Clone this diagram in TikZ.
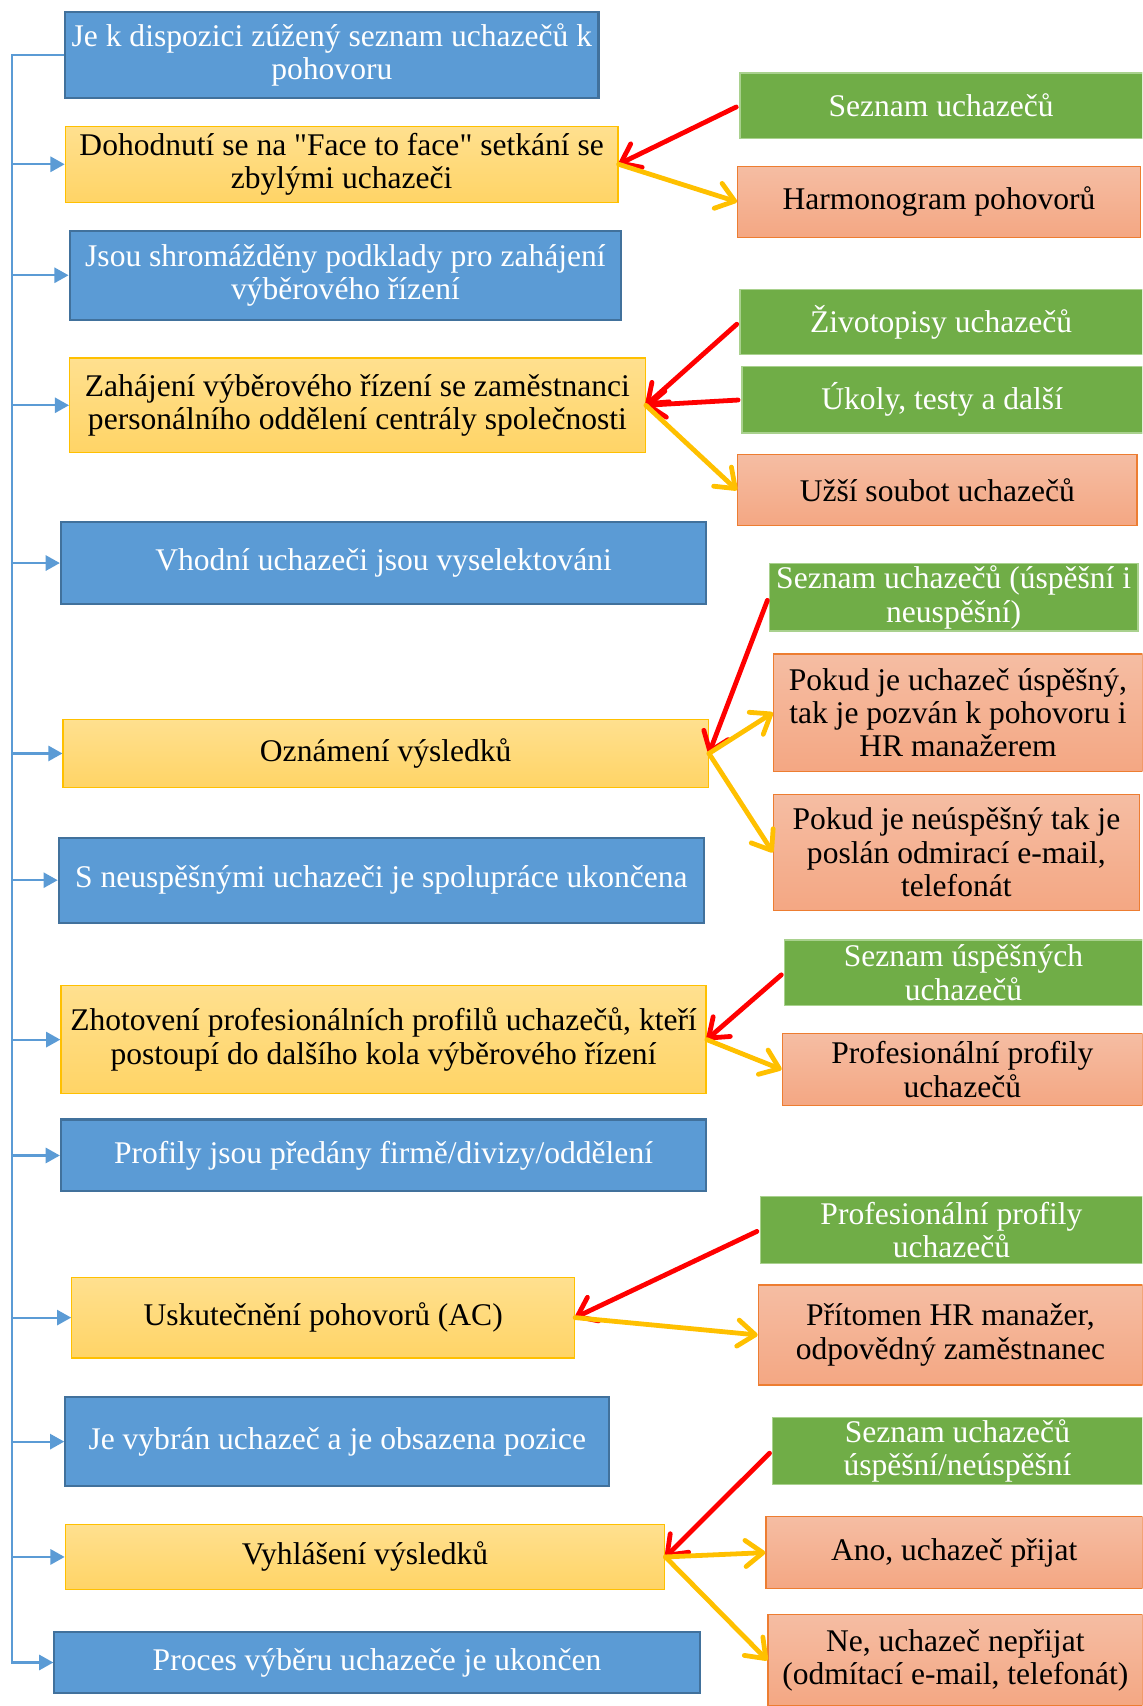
\documentclass[tikz,border=0pt]{standalone}
\usepackage{fontspec}
\setmainfont{Liberation Serif}
\usetikzlibrary{arrows.meta}
\definecolor{procblue}{HTML}{5B9BD5}
\definecolor{procblueline}{HTML}{41719C}
\definecolor{procyellowtop}{HTML}{FFE08F}
\definecolor{procyellowbot}{HTML}{FFD466}
\definecolor{procyellowline}{HTML}{FFC000}
\definecolor{ingreen}{HTML}{70AD47}
\definecolor{ingreenline}{HTML}{A9D18E}
\definecolor{outsalmontop}{HTML}{F5BDA3}
\definecolor{outsalmonbot}{HTML}{F4A783}
\definecolor{outsalmonline}{HTML}{ED7D31}
\definecolor{arrred}{HTML}{FF0000}
\definecolor{arryellow}{HTML}{FFC000}

\begin{document}
\begin{tikzpicture}[
    x=0.5pt, y=-0.5pt,
    every node/.style={font=\fontsize{14.5}{15.3}\selectfont, align=center, inner xsep=1pt, inner ysep=1pt},
    blueproc/.style={rectangle, draw=procblueline, line width=1pt, fill=procblue, text=white},
    yellowproc/.style={rectangle, draw=procyellowline, line width=0.6pt, top color=procyellowtop, bottom color=procyellowbot, text=black},
    greenin/.style={rectangle, draw=ingreenline, line width=0.6pt, fill=ingreen, text=white},
    salmonout/.style={rectangle, draw=outsalmonline, line width=0.6pt, top color=outsalmontop, bottom color=outsalmonbot, text=black},
    trunk/.style={draw=procblue, line width=1pt},
    branch/.style={trunk, -{Triangle[length=6.5pt, width=7pt]}},
    inarrow/.style={draw=arrred, line width=2.2pt, line cap=round, shorten <=1.5pt, -{Straight Barb[length=8pt, width=12pt, round]}},
    outarrow/.style={draw=arryellow, line width=2.2pt, line cap=round, -{Straight Barb[length=8pt, width=12pt, round]}}
]
\useasboundingbox (0,0) rectangle (1050,1568);
\clip (0,0) rectangle (1050,1568);

% Process steps
\node[blueproc, minimum width=245pt, minimum height=39.5pt] (dispozice) at (305,50.5) {Je k dispozici zúžený seznam uchazečů k\\pohovoru};
\node[yellowproc, minimum width=254pt, minimum height=35pt] (dohodnuti) at (314,151) {Dohodnutí se na \textquotedbl Face to face\textquotedbl{} setkání se\\zbylými uchazeči};
\node[blueproc, minimum width=253.5pt, minimum height=41pt] (podklady) at (317.5,253) {Jsou shromážděny podklady pro zahájení\\výběrového řízení};
\node[yellowproc, minimum width=264.5pt, minimum height=43.5pt] (zahajeni) at (328.5,372.5) {Zahájení výběrového řízení se zaměstnanci\\personálního oddělení centrály společnosti};
\node[blueproc, minimum width=296.5pt, minimum height=37.5pt] (vhodni) at (352.5,517.5) {Vhodní uchazeči jsou vyselektováni};
\node[yellowproc, minimum width=296.5pt, minimum height=31.5pt] (oznameni) at (354.5,692.5) {Oznámení výsledků};
\node[blueproc, minimum width=296.5pt, minimum height=39pt] (ukonceni) at (350.5,809) {S neuspěšnými uchazeči je spolupráce ukončena};
\node[yellowproc, minimum width=296.5pt, minimum height=49.5pt] (zhotoveni) at (352.5,955.5) {Zhotovení profesionálních profilů uchazečů, kteří\\postoupí do dalšího kola výběrového řízení};
\node[blueproc, minimum width=296.5pt, minimum height=33pt] (predani) at (352.5,1062) {Profily jsou předány firmě/divizy/oddělení};
\node[yellowproc, minimum width=231pt, minimum height=37pt] (pohovory) at (297,1211) {Uskutečnění pohovorů (AC)};
\node[blueproc, minimum width=250pt, minimum height=41pt] (obsazeni) at (310,1325) {Je vybrán uchazeč a je obsazena pozice};
\node[yellowproc, minimum width=275.5pt, minimum height=30pt] (vyhlaseni) at (335.5,1431) {Vyhlášení výsledků};
\node[blueproc, minimum width=296.5pt, minimum height=28pt] (konec) at (346.5,1528) {Proces výběru uchazeče je ukončen};

% Inputs and outputs
\node[greenin, minimum width=185pt, minimum height=30pt] (seznam) at (865,97) {Seznam uchazečů};
\node[salmonout, minimum width=185pt, minimum height=32.5pt] (harmonogram) at (863,185.5) {Harmonogram pohovorů};
\node[greenin, minimum width=185pt, minimum height=30pt] (zivotopisy) at (865,296) {Životopisy uchazečů};
\node[greenin, minimum width=184pt, minimum height=30.5pt] (ukoly) at (866,367.5) {Úkoly, testy a další};
\node[salmonout, minimum width=183.5pt, minimum height=32.5pt] (soubor) at (861.5,450.5) {Užší soubot uchazečů};
\node[greenin, minimum width=169.5pt, minimum height=31pt] (seznamvys) at (876.5,549) {Seznam uchazečů (úspěšní i\\neuspěšní)};
\node[salmonout, minimum width=169.5pt, minimum height=54pt] (uspesny) at (880.5,655) {Pokud je uchazeč úspěšný,\\tak je pozván k pohovoru i\\HR manažerem};
\node[salmonout, minimum width=168pt, minimum height=53.5pt] (neuspesny) at (879,783.5) {Pokud je neúspěšný tak je\\poslán odmirací e-mail,\\telefonát};
\node[greenin, minimum width=164.5pt, minimum height=30pt] (seznamusp) at (885.5,894) {Seznam úspěšných\\uchazečů};
\node[salmonout, minimum width=165.5pt, minimum height=33pt] (profily) at (884.5,983) {Profesionální profily\\uchazečů};
\node[greenin, minimum width=175.5pt, minimum height=30.5pt] (profilyin) at (874.5,1130.5) {Profesionální profily\\uchazečů};
\node[salmonout, minimum width=176.5pt, minimum height=46pt] (pritomen) at (873.5,1227) {Přítomen HR manažer,\\odpovědný zaměstnanec};
\node[greenin, minimum width=170pt, minimum height=30.5pt] (seznamfin) at (880,1333.5) {Seznam uchazečů\\úspěšní/neúspěšní};
\node[salmonout, minimum width=173pt, minimum height=33pt] (prijat) at (877,1427) {Ano, uchazeč přijat};
\node[salmonout, minimum width=172pt, minimum height=42pt] (neprijat) at (878,1526) {Ne, uchazeč nepřijat\\(odmítací e-mail, telefonát)};

% Trunk on the left
\coordinate (trunkbot) at (11,1528);
\draw[branch] (dispozice.west) -| (trunkbot) -- (konec.west);
\draw[branch] (trunkbot |- dohodnuti.west) -- (dohodnuti.west);
\draw[branch] (trunkbot |- podklady.west) -- (podklady.west);
\draw[branch] (trunkbot |- zahajeni.west) -- (zahajeni.west);
\draw[branch] (trunkbot |- vhodni.west) -- (vhodni.west);
\draw[branch] (trunkbot |- oznameni.west) -- (oznameni.west);
\draw[branch] (trunkbot |- ukonceni.west) -- (ukonceni.west);
\draw[branch] (trunkbot |- zhotoveni.west) -- (zhotoveni.west);
\draw[branch] (trunkbot |- predani.west) -- (predani.west);
\draw[branch] (trunkbot |- pohovory.west) -- (pohovory.west);
\draw[branch] (trunkbot |- obsazeni.west) -- (obsazeni.west);
\draw[branch] (trunkbot |- vyhlaseni.west) -- (vyhlaseni.west);

% Inputs (red)
\draw[inarrow] (seznam.west) -- (dohodnuti.east);
\draw[inarrow] (zivotopisy.west) -- (zahajeni.east);
\draw[inarrow] (ukoly.west) -- (zahajeni.east);
\draw[inarrow] (seznamvys.west) -- (oznameni.east);
\draw[inarrow] (seznamusp.west) -- (zhotoveni.east);
\draw[inarrow] (profilyin.west) -- (pohovory.east);
\draw[inarrow] (seznamfin.west) -- (vyhlaseni.east);

% Outputs (yellow)
\draw[outarrow] (dohodnuti.east) -- (harmonogram.west);
\draw[outarrow] (zahajeni.east) -- (soubor.west);
\draw[outarrow] (oznameni.east) -- (uspesny.west);
\draw[outarrow] (oznameni.east) -- (neuspesny.west);
\draw[outarrow] (zhotoveni.east) -- (profily.west);
\draw[outarrow] (pohovory.east) -- (pritomen.west);
\draw[outarrow] (vyhlaseni.east) -- (prijat.west);
\draw[outarrow] (vyhlaseni.east) -- (neprijat.west);

\end{tikzpicture}
\end{document}
